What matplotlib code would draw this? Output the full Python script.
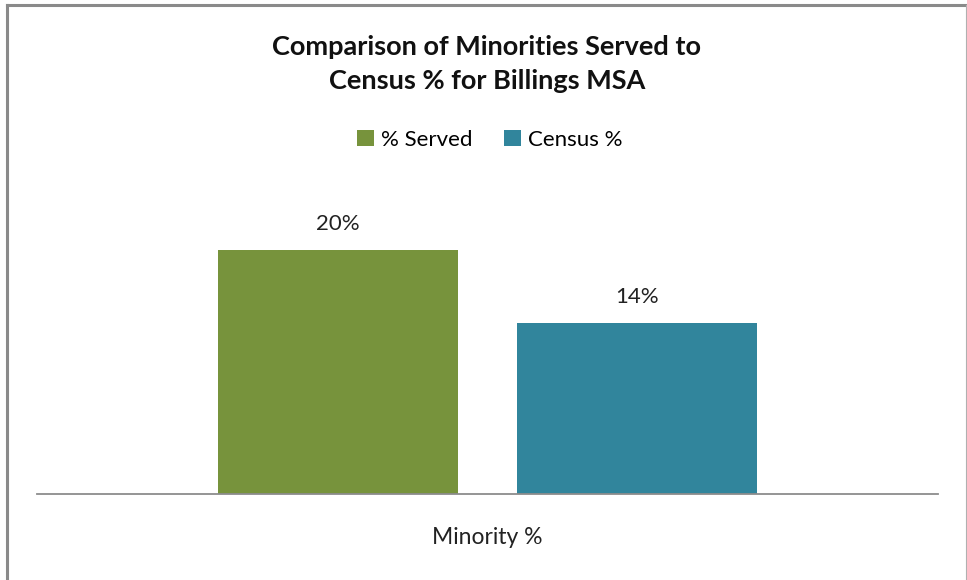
import matplotlib.pyplot as plt
from matplotlib.lines import Line2D
from matplotlib.patches import Patch

# Chart data
category = "Minority %"
series = ["% Served", "Census %"]
values = [20, 14]
colors = ["#77933C", "#31859C"]

W, H = 967, 580
fig = plt.figure(figsize=(W / 100, H / 100), dpi=100)
plt.rcParams['font.family'] = ['Lato', 'DejaVu Sans']

# plot area: x 37..938 px, baseline at y 494 px
ax = fig.add_axes([37 / W, 1 - 494 / H, 901 / W, 305 / H])
offsets = [-0.166, 0.166]
bar_w = 0.266
for name, v, c, off in zip(series, values, colors, offsets):
    ax.bar(off, v, width=bar_w, color=c, label=name)
    ax.text(off, v + 1.3, f"{v}%", ha="center", va="bottom", fontsize=16, color="#222222")

ax.set_xlim(-0.5, 0.5)
ax.set_ylim(0, 25)
ax.set_yticks([])
ax.set_xticks([])
for s in ["top", "right", "left"]:
    ax.spines[s].set_visible(False)
ax.spines["bottom"].set_color("#8c8c8c")
ax.spines["bottom"].set_linewidth(1.3)

fig.text(487 / W, 1 - 538 / H, category, ha="center", va="center", fontsize=16.5, color="#222222")

# title
fig.text(487 / W, 1 - 64 / H, "Comparison of Minorities Served to\nCensus % for Billings MSA",
         ha="center", va="center", fontsize=19.5, fontweight="bold", linespacing=1.5, color="#111111")

# legend
handles = [Patch(facecolor=c, edgecolor="none") for c in colors]
fig.legend(handles, series, loc="center", bbox_to_anchor=(490 / W, 1 - 140 / H), ncol=2,
           frameon=False, fontsize=16, handlelength=0.75, handleheight=0.75,
           handletextpad=0.35, columnspacing=1.4)

# outer border
fig.add_artist(Line2D([7 / W, 7 / W], [0, 1 - 5 / H], color="#8a8a8a", lw=2.2, transform=fig.transFigure))
fig.add_artist(Line2D([7 / W, 966 / W], [1 - 5 / H, 1 - 5 / H], color="#8a8a8a", lw=2.2, transform=fig.transFigure))
fig.add_artist(Line2D([965.5 / W, 965.5 / W], [0, 1 - 5 / H], color="#b0b0b0", lw=0.8, transform=fig.transFigure))

fig.savefig("out.png", dpi=100)
